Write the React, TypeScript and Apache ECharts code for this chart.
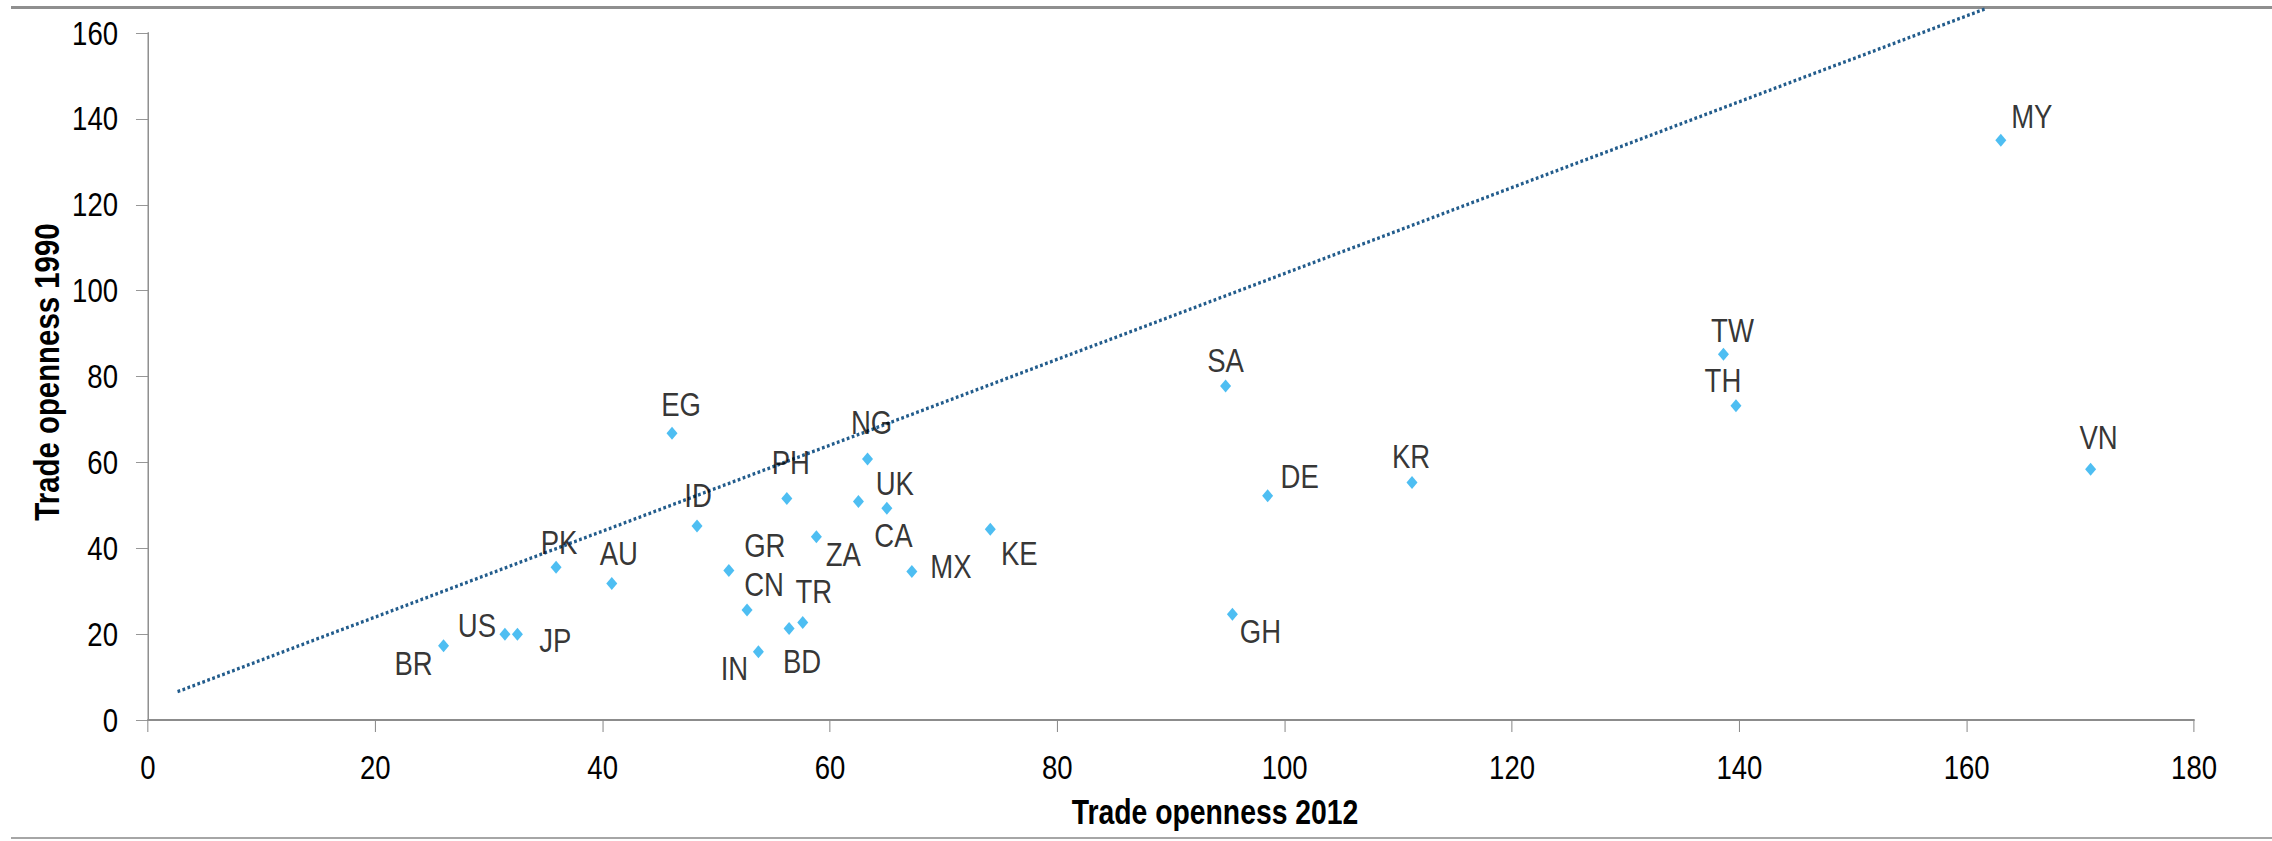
import React, { useEffect, useRef } from "react";
import * as echarts from "echarts";

// Country codes and trade openness values (% of GDP)
const codes = ["BR","US","JP","PK","AU","EG","ID","GR","CN","IN","BD","TR","ZA","PH","NG","CA","UK","MX","KE","SA","DE","GH","KR","TW","TH","MY","VN"];
const open2012 = [26.0,31.4,32.5,35.9,40.8,46.1,48.3,51.1,52.7,53.7,56.4,57.6,58.8,56.2,63.3,62.5,65.0,67.2,74.1,94.8,98.5,95.4,111.2,138.6,139.7,163.0,170.9];
const open1990 = [17.3,20.0,20.0,35.6,31.8,66.8,45.2,34.8,25.6,15.9,21.3,22.7,42.7,51.6,60.8,50.9,49.3,34.6,44.4,77.8,52.2,24.6,55.3,85.2,73.2,135.0,58.4];

// Dotted reference line end points
const lineX = [2.6, 161.7];
const lineY = [6.6, 165.7];

// Axis ranges / ticks
const xMin = 0, xMax = 180, xStep = 20;
const yMin = 0, yMax = 160, yStep = 20;
const xTitle = "Trade openness 2012";
const yTitle = "Trade openness 1990";

// Label placement (screen-pixel offsets of label centre from point), layout only
const labelOffsets: Record<string, [number, number]> = {
  BR: [-30, 18], US: [-28, -9], JP: [38, 6], PK: [3, -25], AU: [7, -30],
  EG: [9, -29], ID: [1, -30], GR: [36, -25], CN: [17, -26], IN: [-24, 17],
  BD: [13, 33], TR: [11, -31], ZA: [27, 18], PH: [4, -36], NG: [4, -36],
  CA: [35, 34], UK: [8, -25], MX: [39, -5], KE: [29, 24], SA: [0, -25],
  DE: [32, -19], GH: [28, 17], KR: [-1, -26], TW: [9, -24], TH: [-13, -25],
  MY: [31, -24], VN: [8, -32],
};

// The reference uses a narrow sans face; emulate it by a horizontal squeeze
const SQ = 0.81;
const W = 2272, H = 841;
const IW = W / SQ;
const FONT = "'Liberation Sans', Arial, sans-serif";
const sx = (v: number) => v / SQ;

export default function App() {
  const ref = useRef<HTMLDivElement>(null);
  useEffect(() => {
    document.body.style.margin = "0";
    if (!ref.current) return;
    const chart = echarts.init(ref.current, null, { renderer: "svg" });
    const scatterData = codes.map((c, i) => {
      const o = labelOffsets[c] || [0, -25];
      return {
        name: c,
        value: [open2012[i], open1990[i]],
        label: { offset: [sx(o[0]), o[1]] },
      };
    });
    chart.setOption({
      animation: false,
      backgroundColor: "#ffffff",
      grid: { left: sx(148), right: sx(78), top: 33, bottom: 121, containLabel: false },
      xAxis: {
        type: "value",
        min: xMin,
        max: xMax,
        interval: xStep,
        splitLine: { show: false },
        axisLine: { show: true, onZero: false, lineStyle: { color: "#8c8c8c", width: 2 } },
        axisTick: { show: true, inside: false, length: 12, lineStyle: { color: "#8c8c8c", width: 1.3 } },
        axisLabel: { color: "#000", fontSize: 34, fontFamily: FONT, margin: 30 },
      },
      yAxis: {
        type: "value",
        min: yMin,
        max: yMax,
        interval: yStep,
        splitLine: { show: false },
        axisLine: { show: true, onZero: false, lineStyle: { color: "#8c8c8c", width: 1.8 } },
        axisTick: { show: true, inside: false, length: sx(12), lineStyle: { color: "#8c8c8c", width: 1 } },
        axisLabel: { color: "#000", fontSize: 34, fontFamily: FONT, margin: sx(30) },
      },
      graphic: [
        { type: "line", shape: { x1: sx(11), y1: 7.5, x2: IW, y2: 7.5 }, style: { stroke: "#8f8f8f", lineWidth: 3 }, silent: true },
        { type: "line", shape: { x1: sx(11), y1: 838, x2: IW, y2: 838 }, style: { stroke: "#a6a6a6", lineWidth: 2 }, silent: true },
        {
          type: "text", x: sx(1215), y: 812,
          style: { text: xTitle, fill: "#000", fontSize: 35, fontWeight: "bold", fontFamily: FONT, align: "center", verticalAlign: "middle" },
        },
        {
          type: "text", x: sx(47), y: 372, rotation: Math.PI / 2, scaleX: 0.84, scaleY: 1 / SQ,
          style: { text: yTitle, fill: "#000", fontSize: 35, fontWeight: "bold", fontFamily: FONT, align: "center", verticalAlign: "middle" },
        },
      ],
      series: [
        {
          type: "line",
          data: lineX.map((x, i) => [x, lineY[i]]),
          showSymbol: false,
          symbol: "none",
          clip: false,
          z: 1,
          silent: true,
          lineStyle: { color: "#225C8C", width: 3.4, type: [3.4, 3] },
        },
        {
          type: "scatter",
          data: scatterData,
          symbol: "diamond",
          symbolSize: [sx(11), 13],
          z: 2,
          itemStyle: { color: "#22AEEF" },
          label: {
            show: true,
            position: "inside",
            formatter: "{b}",
            color: "#000",
            fontSize: 34,
            fontFamily: FONT,
            align: "center",
            verticalAlign: "middle",
          },
        },
      ],
    });
    return () => chart.dispose();
  }, []);
  return (
    <div style={{ width: W, height: H, overflow: "hidden", position: "relative" }}>
      <div
        ref={ref}
        style={{ width: IW, height: H, transform: `scaleX(${SQ})`, transformOrigin: "0 0" }}
      />
    </div>
  );
}
